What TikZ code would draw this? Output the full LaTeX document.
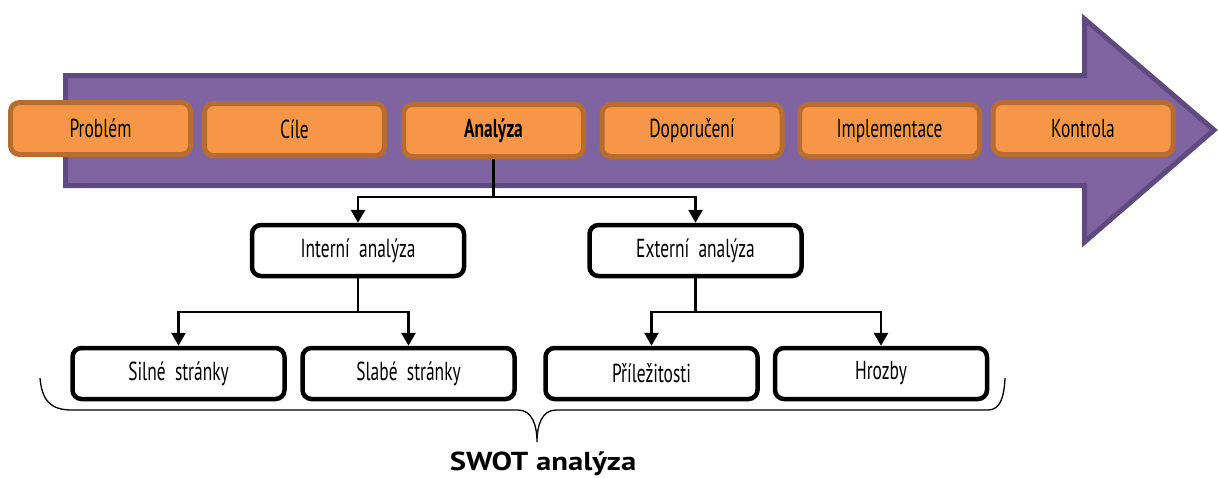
\documentclass[tikz,border=0pt]{standalone}
\usepackage{fontspec}
\setmainfont{PT Sans}
\newfontfamily\condfont[FakeStretch=0.67]{PT Sans}
\newfontfamily\widefont[FakeStretch=1.18]{PT Sans}
\usetikzlibrary{arrows.meta}
\definecolor{arrowfill}{HTML}{8064A2}
\definecolor{arrowline}{HTML}{5E4A80}
\definecolor{stepfill}{HTML}{F79646}
\definecolor{stepline}{HTML}{B86D30}
\tikzset{
  stepbox/.style={draw=stepline, fill=stepfill, line width=5pt,
    rounded corners=9pt, minimum width=180pt, minimum height=52pt,
    inner sep=0pt, font=\condfont\fontsize{26}{26}\selectfont},
  partbox/.style={draw=black, fill=white, line width=4.5pt,
    rounded corners=9pt, minimum width=212pt, minimum height=51pt,
    inner sep=0pt, font=\condfont\fontsize{26}{26}\selectfont},
  link/.style={line width=2.8pt},
  arr/.style={link, -{Triangle[width=14pt,length=13pt]}}
}
\begin{document}
\begin{tikzpicture}[x=1pt,y=-1pt]
  \useasboundingbox (0,0) rectangle (1218,477);
  %% the big process arrow
  \draw[draw=arrowline, fill=arrowfill, line width=5pt, line join=miter]
    (65.5,75.5) -- (1084.5,75.5) -- (1084.5,19) -- (1214,130)
    -- (1084.5,242) -- (1084.5,185.5) -- (65.5,185.5) -- cycle;%
  %% steps on the arrow
  \foreach \nm/\x/\y/\txt in {prob/100.5/128.5/Problém, cile/294.5/129.5/Cíle,
      ana/493.5/130.5/\textbf{Analýza}, dop/692/130.5/Doporučení,
      impl/889.5/130.5/Implementace, kon/1083/128.5/Kontrola}
    \node[stepbox] (\nm) at (\x,\y) {\txt};%

  %% analysis tree
  \node[partbox] (int) at (358,250.5) {Interní\ \ analýza};
  \node[partbox] (ext) at (695.5,250.5) {Externí\ \ analýza};
  \node[partbox] (sil) at (178.5,373.5) {Silné\ \ stránky};
  \node[partbox] (sla) at (408.5,373.5) {Slabé\ \ stránky};
  \node[partbox] (pri) at (651.5,373.5) {Příležitosti};
  \node[partbox] (hro) at (881,373.5) {Hrozby};

  \coordinate (j0) at (ana.south |- 0,197);
  \coordinate (j1) at (int.south |- 0,312);
  \coordinate (j2) at (ext.south |- 0,312);
  \draw[link] (ana.south) -- (j0);
  \draw[arr] (j0) -| (int.north);
  \draw[arr] (j0) -| (ext.north);
  \draw[link] (int.south) -- (j1);
  \draw[arr] (j1) -| (sil.north);
  \draw[arr] (j1) -| (sla.north);
  \draw[link] (ext.south) -- (j2);
  \draw[arr] (j2) -| (pri.north);
  \draw[arr] (j2) -| (hro.north);

  %% brace under the four boxes
  \draw[line width=1.3pt] (40,378) .. controls (42,402) and (52,410) .. (72,410)
    -- (518,410) .. controls (532,410) and (537,425) .. (537,442)
    .. controls (537,425) and (542,410) .. (556,410)
    -- (988,410) .. controls (1000,410) and (1004,398) .. (1005,378);
  \node[anchor=base, font=\widefont\bfseries\fontsize{26}{26}\selectfont] (swot)
    at (543,470) {SWOT analýza};
\end{tikzpicture}
\end{document}
